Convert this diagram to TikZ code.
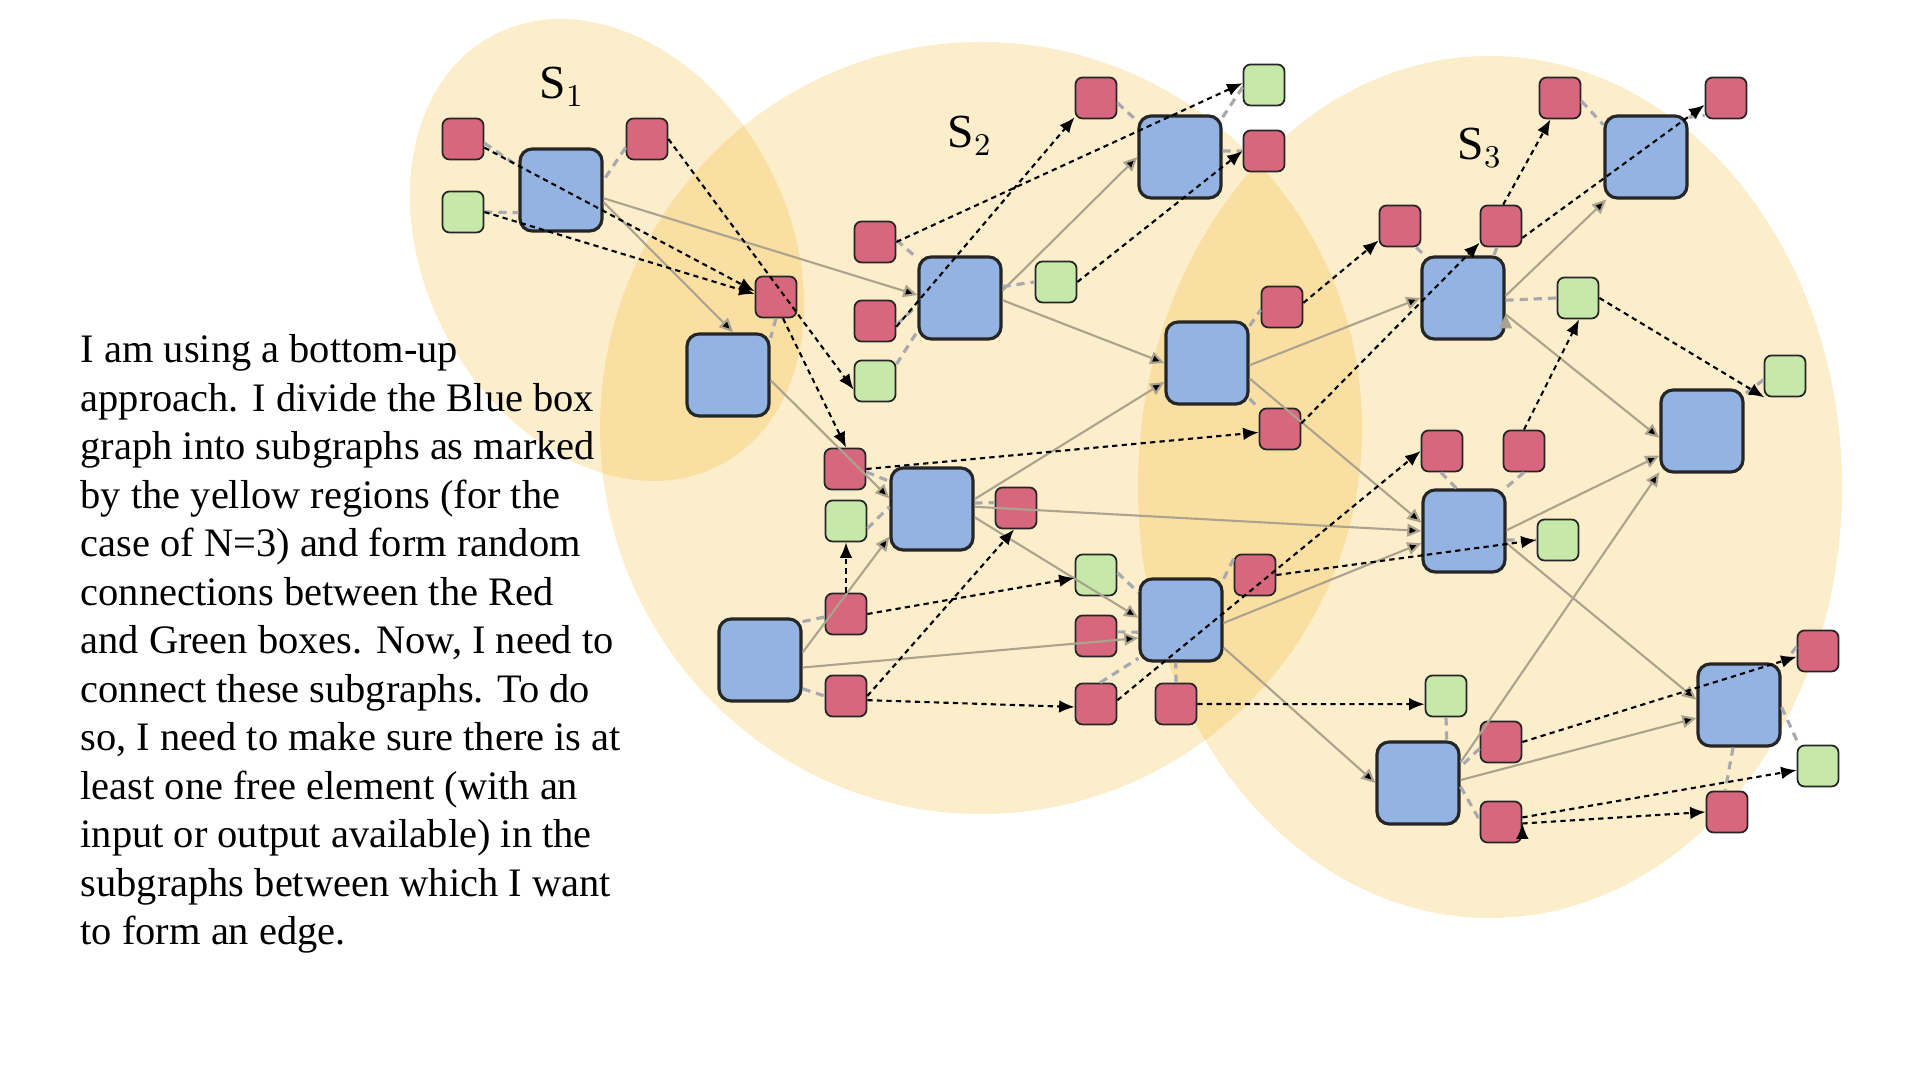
\documentclass[tikz,border=0pt]{standalone}
\usepackage{fontspec}
\setmainfont{Liberation Serif}
\usetikzlibrary{arrows.meta}

\definecolor{blueBox}{HTML}{93B4E3}
\definecolor{redBox}{HTML}{D7677D}
\definecolor{greenBox}{HTML}{C6E8A9}
\definecolor{regionFill}{HTML}{F2B01D}
\definecolor{flowGray}{HTML}{ABA38E}
\definecolor{portGray}{HTML}{A8A9AF}

\begin{document}
\begin{tikzpicture}[x=0.01cm,y=-0.01cm,
  region/.style={fill=regionFill,fill opacity=0.23},
  bluebox/.style={draw=black!85,fill=blueBox,line width=0.9pt,rounded corners=3.5pt,minimum size=0.82cm,inner sep=0pt},
  redport/.style={draw=black!85,fill=redBox,line width=0.5pt,rounded corners=2pt,minimum size=0.41cm,inner sep=0pt},
  greenport/.style={draw=black!85,fill=greenBox,line width=0.5pt,rounded corners=2pt,minimum size=0.41cm,inner sep=0pt},
  flow/.style={draw=flowGray,line width=0.6pt,-{Triangle[length=4pt,width=3.6pt]}},
  attach/.style={draw=portGray,line width=0.9pt,dash pattern=on 2.3pt off 1.7pt},
  link/.style={draw=black,line width=0.6pt,dash pattern=on 1.5pt off 1.2pt,-{Latex[length=4.4pt,width=3.6pt]}},
  sublabel/.style={font=\fontsize{13.5pt}{15pt}\selectfont}]

\useasboundingbox (0,0) rectangle (1920,1080);

% yellow subgraph regions
\path[region,rotate around={28:(607,250)}] (607,250) ellipse [x radius=182,y radius=243];
\path[region] (981,428) ellipse [x radius=381,y radius=386];
\path[region] (1490,487) ellipse [x radius=352,y radius=431];

\node[sublabel](s1) at (562,87){S$_1$};
\node[sublabel](s2) at (970,136){S$_2$};
\node[sublabel](s3) at (1480,148){S$_3$};

% last line sits on the base anchor
\node[anchor=base west,align=left,inner sep=0pt,font=\fontsize{11.5pt}{13.8pt}\selectfont](txt) at (80,945)
{I am using a bottom-up\\
approach. I divide the Blue box\\
graph into subgraphs as marked\\
by the yellow regions (for the\\
case of N=3) and form random\\
connections between the Red\\
and Green boxes. Now, I need to\\
connect these subgraphs. To do\\
so, I need to make sure there is at\\
least one free element (with an\\
input or output available) in the\\
subgraphs between which I want\\
to form an edge.};

% blue boxes
\node[bluebox](b1) at (561,190){};
\node[bluebox](b2) at (728,375){};
\node[bluebox](b3) at (1180,157){};
\node[bluebox](b4) at (960,298){};
\node[bluebox](b5) at (1207,363){};
\node[bluebox](b6) at (1646,157){};
\node[bluebox](b7) at (1463,298){};
\node[bluebox](b8) at (1702,431){};
\node[bluebox](b9) at (1464,531){};
\node[bluebox](b10) at (932,509){};
\node[bluebox](b11) at (760,660){};
\node[bluebox](b12) at (1181,620){};
\node[bluebox](b13) at (1418,783){};
\node[bluebox](b14) at (1739,705){};

% red ports
\node[redport](r1) at (463,139){};
\node[redport](r2) at (647,139){};
\node[redport](r3) at (776,297){};
\node[redport](r4) at (875,242){};
\node[redport](r5) at (875,321){};
\node[redport](r6) at (1096,98){};
\node[redport](r7) at (1264,151){};
\node[redport](r8) at (1282,307){};
\node[redport](r9) at (1280,429){};
\node[redport](r10) at (1560,98){};
\node[redport](r11) at (1726,98){};
\node[redport](r12) at (1400,226){};
\node[redport](r13) at (1501,226){};
\node[redport](r14) at (1442,451){};
\node[redport](r15) at (1524,451){};
\node[redport](r16) at (845,469){};
\node[redport](r17) at (1016,508){};
\node[redport](r18) at (846,614){};
\node[redport](r19) at (846,696){};
\node[redport](r20) at (1096,636){};
\node[redport](r21) at (1096,704){};
\node[redport](r22) at (1176,704){};
\node[redport](r23) at (1255,575){};
\node[redport](r24) at (1501,742){};
\node[redport](r25) at (1501,822){};
\node[redport](r26) at (1818,651){};
\node[redport](r27) at (1727,812){};

% green ports
\node[greenport](g1) at (463,212){};
\node[greenport](g2) at (875,381){};
\node[greenport](g3) at (1264,85){};
\node[greenport](g4) at (1056,282){};
\node[greenport](g5) at (1578,298){};
\node[greenport](g6) at (1785,376){};
\node[greenport](g7) at (846,521){};
\node[greenport](g8) at (1096,575){};
\node[greenport](g9) at (1558,540){};
\node[greenport](g10) at (1446,696){};
\node[greenport](g11) at (1818,766){};

% blue to blue
\path[flow]
  (b1.-16) edge (b2.83)
  (b1.-11) edge (b4.176)
  (b2.-7) edge (b10.166)
  (b11.10) edge (b10.213)
  (b11.-10) edge (b12.203)
  (b10.-11) edge (b12.177)
  (b10.3) edge (b9.180)
  (b10.13) edge (b5.204)
  (b4.10) edge (b3.180)
  (b4.-3) edge (b5.180)
  (b5.-3) edge (b7.180)
  (b5.-20) edge (b9.169)
  (b12.-4) edge (b9.196)
  (b12.-33) edge (b13.180)
  (b9.1) edge (b8.210)
  (b13.26) edge (b8.224)
  (b9.-16) edge (b14.173)
  (b13.4) edge (b14.197)
  (b7.3) edge (b6.227)
  (b7.-21) edge (b8.189);

% ports hooked to their blue box
\path[attach]
  (r1.-11) edge (b1.151)
  (g1.0) edge (b1.208)
  (r2.202) edge (b1.13)
  (r3.-90) edge (b2.41)
  (r4.5) edge (b4.137)
  (r5.-10) edge (b4.190)
  (g2.38) edge (b4.218)
  (b4.15) edge (g4.180)
  (r6.-13) edge (b3.140)
  (g3.186) edge (b3.43)
  (b3.8) edge (r7.180)
  (b5.41) edge (r8.188)
  (b5.-40) edge (r9.136)
  (r10.-8) edge (b6.143)
  (b6.43) edge (r11.219)
  (r12.-53) edge (b7.132)
  (r13.-101) edge (b7.54)
  (b7.-3) edge (g5.180)
  (g6.190) edge (b8.41)
  (r14.-93) edge (b9.100)
  (r15.-90) edge (b9.46)
  (b9.-12) edge (g9.180)
  (r16.-8) edge (b10.147)
  (g7.-19) edge (b10.177)
  (b10.8) edge (r17.166)
  (b11.42) edge (r18.188)
  (b11.-34) edge (r19.180)
  (g8.6) edge (b12.147)
  (r20.11) edge (b12.196)
  (r21.79) edge (b12.222)
  (r22.90) edge (b12.-97)
  (r23.143) edge (b12.44)
  (g10.-90) edge (b13.56)
  (r24.197) edge (b13.21)
  (b13.-5) edge (r25.175)
  (r26.169) edge (b14.43)
  (b14.-3) edge (g11.132)
  (b14.-98) edge (r27.95);

% random red/green connections
\path[link]
  (r1.-22) edge (r3.165)
  (g1.0) edge (r3.172)
  (r2.0) edge (g2.202)
  (r3.-72) edge (r16.87)
  (r4.0) edge (g3.175)
  (r5.-15) edge (r6.222)
  (g4.0) edge (r7.180)
  (r16.0) edge (r9.189)
  (r8.11) edge (r12.214)
  (r9.15) edge (r13.218)
  (r13.84) edge (r10.-114)
  (r13.-29) edge (r11.198)
  (g5.0) edge (g6.226)
  (r15.90) edge (g5.-87)
  (r21.10) edge (r14.180)
  (r23.0) edge (g9.180)
  (r19.0) edge (r17.-95)
  (r18.90) edge (g7.-90)
  (r18.0) edge (g8.188)
  (r19.-11) edge (r21.188)
  (r22.0) edge (g10.201)
  (r24.0) edge (r26.195)
  (r25.12) edge (g11.191)
  (r25.-4) edge (r27.180);

\end{tikzpicture}
\end{document}
